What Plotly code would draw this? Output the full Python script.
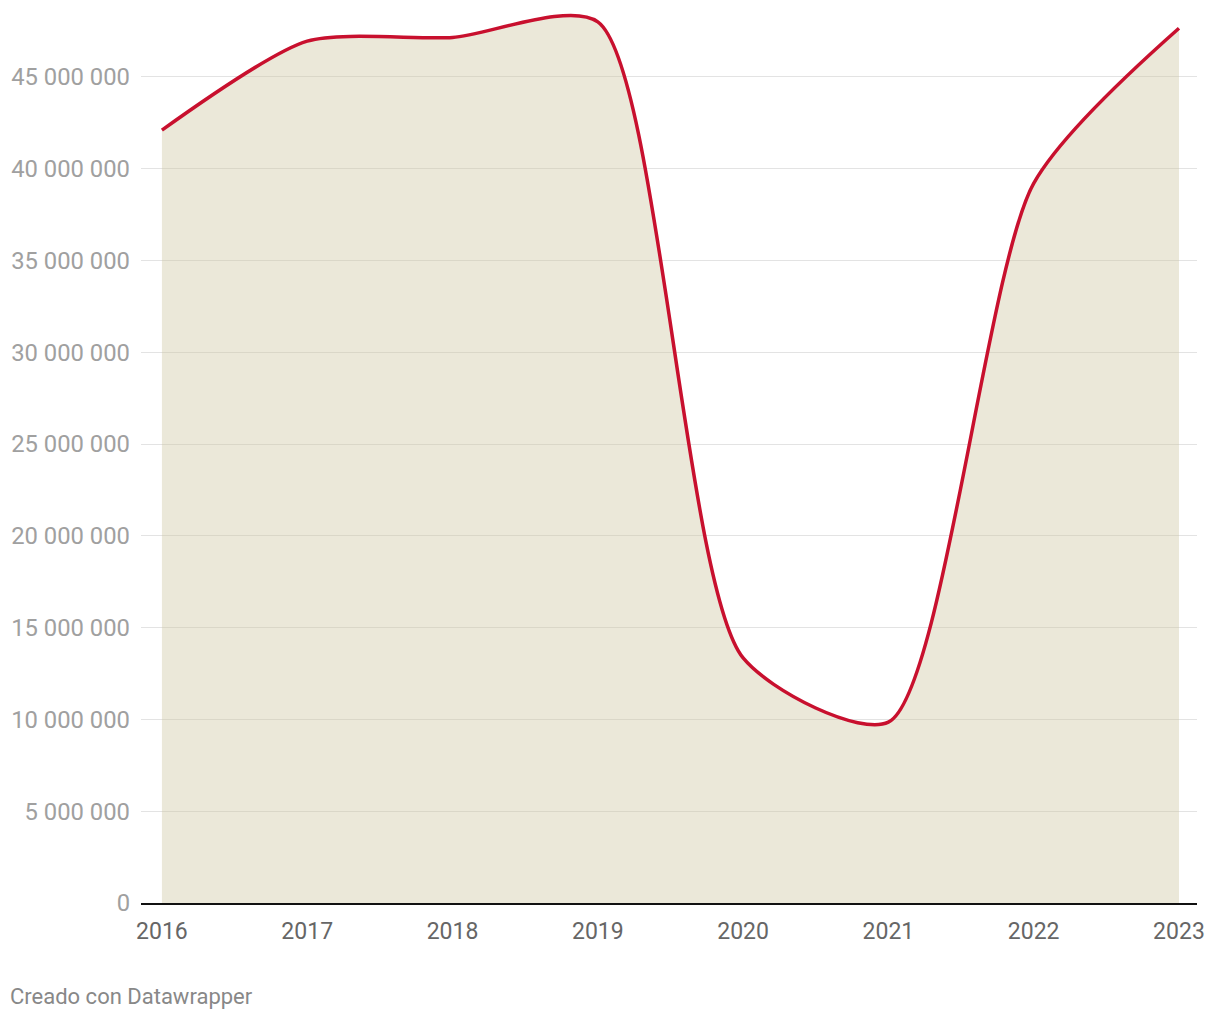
import plotly.graph_objects as go

years = [2016, 2017, 2018, 2019, 2020, 2021, 2022, 2023]
values = [42.1e6, 46.95e6, 47.15e6, 48.0e6, 13.35e6, 9.85e6, 39.2e6, 47.65e6]
y_ticks = [0, 5e6, 10e6, 15e6, 20e6, 25e6, 30e6, 35e6, 40e6, 45e6]
x_ticks = years

fig = go.Figure()
fig.add_trace(go.Scatter(
    x=years, y=values, mode="lines",
    line=dict(color="#C8102E", width=3.5, shape="spline", smoothing=0.7),
    fill="tozeroy", fillcolor="rgba(205,198,160,0.4)",
    hoverinfo="skip",
))

fig.update_layout(
    width=1220, height=1020,
    margin=dict(l=141, r=23, t=0, b=117),
    paper_bgcolor="white", plot_bgcolor="white",
    font=dict(family="Roboto", size=20, color="#999999"),
    separators=", ",
    showlegend=False,
    xaxis=dict(
        range=[2015.856, 2023.124],
        tickvals=x_ticks, ticktext=[str(y) for y in x_ticks],
        showgrid=False, zeroline=False,
        showline=True, linecolor="#111111", linewidth=2,
        ticks="", ticklabelstandoff=6,
        tickfont=dict(family="Roboto", size=23, color="#666666"),
    ),
    yaxis=dict(
        range=[0, 49.19e6],
        tickvals=y_ticks, tickformat=",d",
        showgrid=True, gridcolor="#e3e3e3", gridwidth=1,
        zeroline=False, showline=False, ticks="",
        ticklabelstandoff=10,
        tickfont=dict(family="Roboto", size=23.8, color="#a0a0a0"),
    ),
    annotations=[dict(
        text="Creado con Datawrapper", xref="paper", yref="paper",
        x=0, y=-0.103, xshift=-133, xanchor="left", yanchor="middle",
        showarrow=False, font=dict(family="Roboto", size=22, color="#888888"),
    )],
)

fig.write_html("out.html")
